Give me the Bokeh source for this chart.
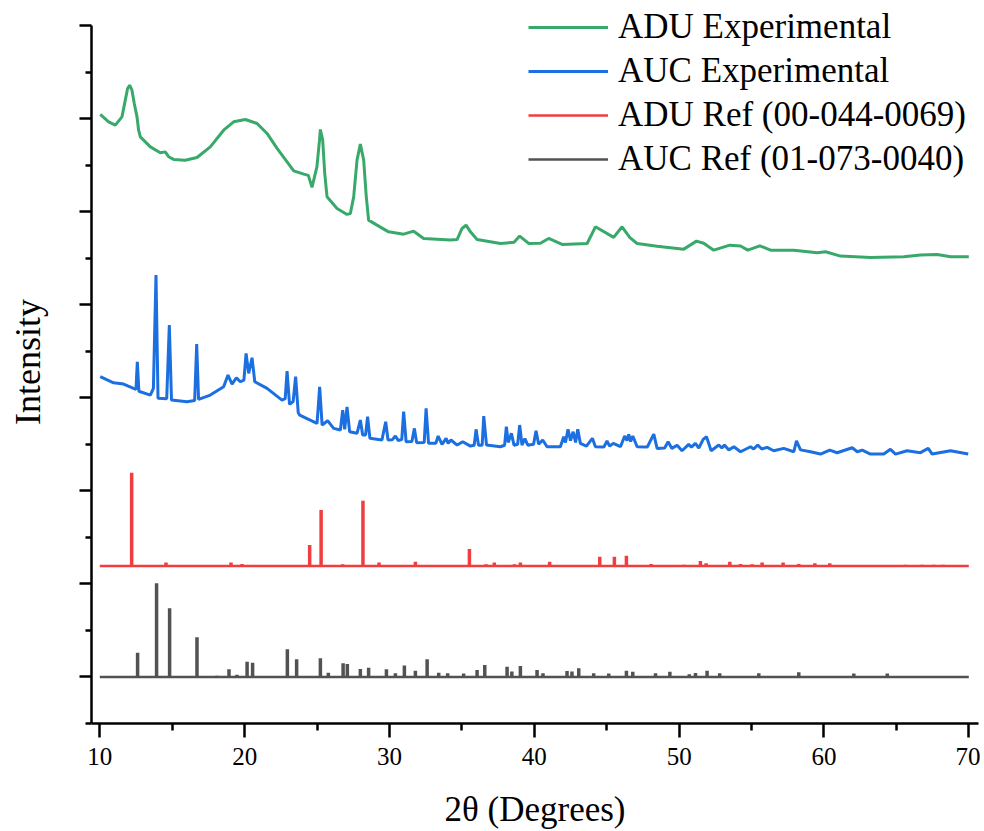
from bokeh.plotting import figure
from bokeh.models import Range1d, FixedTicker, Legend, LegendItem
from bokeh.embed import file_html
from bokeh.resources import INLINE

# ---------------- data ----------------
# y values are in plot units (one major y tick = 1 unit), offsets included
adu_exp_x = [10.03, 10.61, 11.07, 11.53, 11.76, 11.92, 12.06, 12.22, 12.38, 12.57, 12.68, 12.80,
             13.49, 14.18, 14.52, 14.75, 15.10, 15.90, 16.71, 17.63, 18.55, 19.24, 20.05, 20.86,
             21.55, 22.24, 22.93, 23.39, 24.08, 24.40, 24.65, 24.99, 25.17, 25.23, 25.39, 25.53,
             25.69, 26.38, 27.07, 27.30, 27.53, 27.76, 27.99, 28.22, 28.40, 28.56, 29.14, 29.94,
             30.98, 31.67, 32.36, 34.21, 34.67, 35.01, 35.29, 35.59, 36.05, 37.66, 38.60, 38.99,
             39.61, 40.42, 40.99, 41.92, 43.65, 44.22, 45.48, 46.06, 46.60, 47.10, 48.48, 50.32,
             51.20, 51.70, 52.39, 53.50, 54.24, 54.74, 55.57, 56.31, 57.92, 59.53, 60.11, 61.14,
             63.21, 65.51, 66.66, 67.82, 68.74, 70.00]
adu_exp_y = [6.044, 5.965, 5.929, 6.018, 6.198, 6.323, 6.359, 6.305, 6.162, 6.018, 5.875, 5.803,
             5.696, 5.632, 5.642, 5.590, 5.561, 5.553, 5.582, 5.696, 5.875, 5.965, 5.990, 5.947,
             5.840, 5.679, 5.535, 5.438, 5.403, 5.390, 5.260, 5.481, 5.768, 5.883, 5.768, 5.410,
             5.159, 5.034, 4.970, 4.980, 5.159, 5.553, 5.725, 5.553, 5.159, 4.909, 4.855, 4.783,
             4.758, 4.790, 4.712, 4.694, 4.700, 4.819, 4.855, 4.783, 4.701, 4.658, 4.670, 4.737,
             4.658, 4.660, 4.712, 4.647, 4.658, 4.837, 4.723, 4.837, 4.720, 4.658, 4.629, 4.597,
             4.683, 4.660, 4.586, 4.640, 4.630, 4.586, 4.633, 4.586, 4.586, 4.558, 4.569, 4.522,
             4.508, 4.515, 4.533, 4.540, 4.515, 4.515]

auc_exp_x = [10.03, 10.95, 11.64, 12.33, 12.50, 12.59, 12.70, 13.49, 13.70, 13.88, 14.02, 14.62,
             14.80, 14.95, 16.02, 16.55, 16.69, 16.82, 17.63, 18.55, 18.85, 19.13, 19.43, 19.70,
             19.95, 20.10, 20.28, 20.51, 20.70, 21.55, 22.58, 22.80, 22.93, 23.10, 23.35, 23.52,
             23.70, 23.80, 25.00, 25.18, 25.35, 25.73, 26.15, 26.61, 26.77, 26.91, 27.07, 27.25,
             27.76, 27.99, 28.15, 28.35, 28.49, 28.65, 29.48, 29.74, 29.90, 30.20, 30.41, 30.60,
             30.85, 30.98, 31.15, 31.55, 31.72, 31.88, 32.40, 32.53, 32.70, 33.20, 33.36, 33.63,
             33.91, 34.05, 34.25, 34.67, 35.06, 35.59, 35.85, 35.98, 36.15, 36.40, 36.51, 36.70,
             37.66, 37.95, 38.07, 38.20, 38.42, 38.60, 38.85, 38.99, 39.15, 39.35, 39.55, 39.95,
             40.12, 40.30, 40.58, 40.88, 41.80, 42.03, 42.15, 42.33, 42.50, 42.68, 42.85, 43.00,
             43.18, 43.60, 44.01, 44.22, 44.80, 45.02, 45.20, 45.45, 45.95, 46.24, 46.40, 46.52,
             46.65, 46.80, 47.10, 47.80, 48.25, 48.48, 49.00, 49.24, 49.50, 49.86, 50.20, 50.66,
             50.85, 51.12, 51.36, 51.66, 51.89, 52.21, 52.74, 52.95, 53.13, 53.43, 53.78, 54.24,
             54.93, 55.15, 55.43, 55.70, 56.08, 56.53, 57.22, 57.92, 58.10, 58.38, 59.07, 59.76,
             60.40, 60.91, 61.95, 62.30, 62.64, 63.21, 64.13, 64.59, 64.94, 65.74, 66.66, 67.20,
             67.47, 68.74, 69.96]
auc_exp_y = [3.226, 3.161, 3.147, 3.101, 3.090, 3.387, 3.070, 3.029, 3.100, 4.318, 2.994, 2.990,
             3.781, 2.975, 2.957, 2.970, 3.577, 2.983, 3.029, 3.118, 3.244, 3.147, 3.215, 3.172,
             3.190, 3.477, 3.262, 3.430, 3.172, 3.101, 2.975, 2.990, 3.287, 2.930, 2.960, 3.226,
             2.840, 2.814, 2.725, 3.118, 2.707, 2.753, 2.671, 2.653, 2.868, 2.660, 2.903, 2.635,
             2.618, 2.760, 2.600, 2.600, 2.796, 2.564, 2.546, 2.742, 2.546, 2.550, 2.589, 2.540,
             2.550, 2.850, 2.527, 2.530, 2.671, 2.517, 2.520, 2.886, 2.510, 2.510, 2.589, 2.500,
             2.564, 2.510, 2.546, 2.492, 2.527, 2.481, 2.490, 2.661, 2.490, 2.490, 2.803, 2.492,
             2.474, 2.490, 2.689, 2.520, 2.618, 2.490, 2.500, 2.707, 2.492, 2.560, 2.490, 2.500,
             2.646, 2.500, 2.546, 2.474, 2.474, 2.581, 2.520, 2.661, 2.540, 2.635, 2.520, 2.661,
             2.510, 2.480, 2.564, 2.474, 2.470, 2.535, 2.480, 2.510, 2.474, 2.589, 2.540, 2.607,
             2.530, 2.589, 2.474, 2.470, 2.610, 2.456, 2.460, 2.527, 2.456, 2.490, 2.431, 2.499,
             2.470, 2.510, 2.460, 2.553, 2.581, 2.431, 2.492, 2.460, 2.492, 2.440, 2.474, 2.420,
             2.474, 2.450, 2.492, 2.450, 2.467, 2.431, 2.456, 2.420, 2.538, 2.440, 2.420, 2.395,
             2.438, 2.409, 2.463, 2.420, 2.438, 2.395, 2.395, 2.446, 2.395, 2.431, 2.410, 2.456,
             2.395, 2.431, 2.395]

scan_x = [10.0, 70.0]

adu_ref_base = 1.192
adu_ref_pos = [12.20, 14.57, 19.06, 19.82, 24.49, 25.28, 26.77, 28.17, 29.28, 31.79, 35.52,
               36.67, 37.24, 38.63, 39.04, 41.06, 44.52, 45.53, 46.36, 48.07, 50.32, 51.47,
               51.86, 53.50, 54.24, 55.04, 55.73, 57.18, 58.26, 59.37, 60.40, 65.63, 66.78,
               67.58, 68.23]
adu_ref_top = [2.195, 1.229, 1.229, 1.214, 1.418, 1.794, 1.211, 1.894, 1.229, 1.239, 1.375,
               1.211, 1.229, 1.211, 1.229, 1.239, 1.292, 1.292, 1.303, 1.214, 1.205, 1.246,
               1.222, 1.239, 1.214, 1.211, 1.229, 1.229, 1.214, 1.222, 1.222, 1.205, 1.205,
               1.205, 1.205]

auc_ref_base = 0.0
auc_ref_pos = [12.61, 13.92, 14.82, 16.71, 18.09, 18.92, 19.47, 20.17, 20.55, 22.95, 23.59,
               25.23, 25.78, 26.80, 27.09, 27.99, 28.56, 29.79, 30.41, 31.03, 31.79, 32.60,
               33.40, 34.02, 35.12, 36.05, 36.58, 38.12, 38.45, 39.04, 40.19, 40.60, 42.26,
               42.60, 43.07, 44.10, 45.14, 46.36, 46.80, 48.37, 49.36, 50.70, 51.13, 51.93,
               52.80, 55.50, 58.26, 62.06, 64.37]
auc_ref_top = [0.261, 1.006, 0.738, 0.426, 0.014, 0.083, 0.025, 0.164, 0.154, 0.297, 0.190,
               0.201, 0.046, 0.147, 0.140, 0.086, 0.100, 0.083, 0.040, 0.122, 0.068, 0.190,
               0.046, 0.040, 0.036, 0.075, 0.129, 0.111, 0.060, 0.118, 0.075, 0.040, 0.064,
               0.060, 0.093, 0.040, 0.036, 0.068, 0.055, 0.040, 0.057, 0.030, 0.043, 0.068,
               0.040, 0.040, 0.051, 0.036, 0.036]

series_labels = ["ADU Experimental", "AUC Experimental", "ADU Ref (00-044-0069)", "AUC Ref (01-073-0040)"]
series_colors = ["#38a96a", "#1c6fe0", "#f03e40", "#525252"]

x_ticks = [10, 20, 30, 40, 50, 60, 70]
x_minor = [15, 25, 35, 45, 55, 65]
y_ticks = [0, 1, 2, 3, 4, 5, 6, 7]
y_minor = [-0.5, 0.5, 1.5, 2.5, 3.5, 4.5, 5.5, 6.5]

FONT = "Liberation Serif"

# ---------------- figure ----------------
# frame reaches the canvas top so the legend (which sits above the y-axis end) is not clipped;
# the y axis line itself is limited to the tick span with `bounds`
p = figure(width=980, height=831, output_backend="svg", toolbar_location=None,
           x_range=Range1d(9.427, 70.67), y_range=Range1d(-0.5, 7.2686),
           min_border_left=91, min_border_right=2, min_border_top=0, min_border_bottom=108)
p.outline_line_color = None
p.xgrid.visible = False
p.ygrid.visible = False

r_green = p.line(adu_exp_x, adu_exp_y, line_color=series_colors[0], line_width=3)
r_blue = p.line(auc_exp_x, auc_exp_y, line_color=series_colors[1], line_width=3)

r_red = p.line(scan_x, [adu_ref_base] * len(scan_x), line_color=series_colors[2], line_width=2.5)
p.segment(x0=adu_ref_pos, y0=[adu_ref_base] * len(adu_ref_pos), x1=adu_ref_pos, y1=adu_ref_top,
          line_color=series_colors[2], line_width=3.5)

r_black = p.line(scan_x, [auc_ref_base] * len(scan_x), line_color=series_colors[3], line_width=2.5)
p.segment(x0=auc_ref_pos, y0=[auc_ref_base] * len(auc_ref_pos), x1=auc_ref_pos, y1=auc_ref_top,
          line_color=series_colors[3], line_width=3.5)

# axes
xa = p.xaxis[0]
xa.ticker = FixedTicker(ticks=x_ticks, minor_ticks=x_minor)
xa.axis_label = "2θ (Degrees)"
xa.axis_label_text_font = FONT
xa.axis_label_text_font_size = "35px"
xa.axis_label_text_font_style = "normal"
xa.axis_label_text_color = "black"
xa.axis_label_standoff = 22
xa.major_label_text_font = FONT
xa.major_label_text_font_size = "25px"
xa.major_label_text_color = "black"
xa.major_label_standoff = 10
xa.major_tick_out = 14
xa.major_tick_in = 0
xa.minor_tick_out = 7
xa.minor_tick_in = 0
xa.axis_line_width = 2.5
xa.major_tick_line_width = 2.5
xa.minor_tick_line_width = 2.5
xa.axis_line_color = "black"
xa.major_tick_line_color = "black"
xa.minor_tick_line_color = "black"

ya = p.yaxis[0]
ya.ticker = FixedTicker(ticks=y_ticks, minor_ticks=y_minor)
ya.bounds = (-0.5, 7.0)
ya.axis_label = "Intensity"
ya.axis_label_text_font = FONT
ya.axis_label_text_font_size = "36px"
ya.axis_label_text_font_style = "normal"
ya.axis_label_text_color = "black"
ya.axis_label_standoff = 32
ya.major_label_text_font_size = "0px"
ya.major_label_standoff = 0
ya.major_tick_out = 12
ya.major_tick_in = 0
ya.minor_tick_out = 6
ya.minor_tick_in = 0
ya.axis_line_width = 2.5
ya.major_tick_line_width = 2.5
ya.minor_tick_line_width = 2.5
ya.axis_line_color = "black"
ya.major_tick_line_color = "black"
ya.minor_tick_line_color = "black"

legend = Legend(items=[LegendItem(label=series_labels[0], renderers=[r_green]),
                       LegendItem(label=series_labels[1], renderers=[r_blue]),
                       LegendItem(label=series_labels[2], renderers=[r_red]),
                       LegendItem(label=series_labels[3], renderers=[r_black])],
                location=(433, 540))
legend.background_fill_alpha = 0
legend.border_line_alpha = 0
legend.padding = 4
legend.spacing = 4
legend.glyph_width = 80
legend.glyph_height = 40
legend.label_height = 40
legend.label_standoff = 10
legend.label_text_font = FONT
legend.label_text_font_size = "35px"
legend.label_text_color = "black"
p.add_layout(legend)

open("out.html", "w").write(file_html(p, INLINE))
